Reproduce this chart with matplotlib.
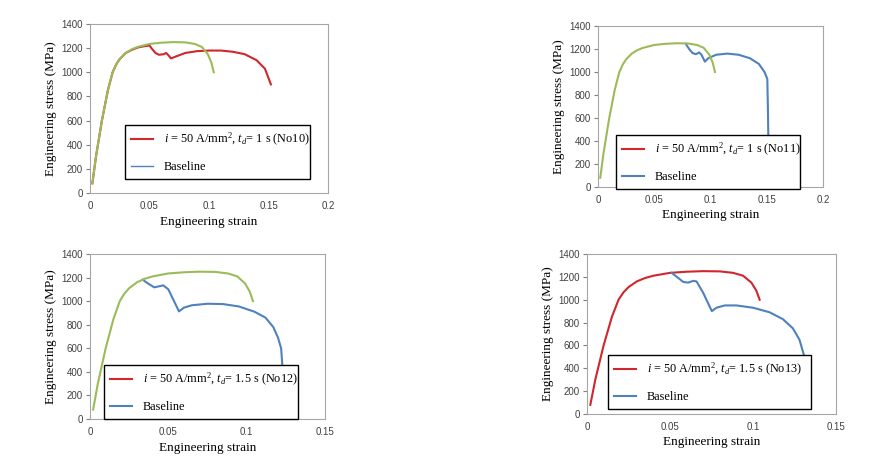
import matplotlib
matplotlib.use("Agg")
import matplotlib.pyplot as plt
from matplotlib.lines import Line2D

plt.rcParams['font.family'] = 'Liberation Serif'
plt.rcParams['mathtext.fontset'] = 'custom'
plt.rcParams['mathtext.rm'] = 'Liberation Serif'
plt.rcParams['mathtext.it'] = 'Liberation Serif:italic'

red = '#D0262D'
blue = '#4F81BD'
green = '#9BBB59'

# common elastic-plastic part (yellow-green curve)
green_x = [0.002, 0.005, 0.01, 0.015, 0.019, 0.022, 0.025, 0.03, 0.035, 0.04, 0.05, 0.06, 0.07, 0.08, 0.088, 0.094, 0.099, 0.102, 0.104]
green_y = [80, 300, 600, 850, 1000, 1065, 1110, 1160, 1190, 1210, 1235, 1245, 1250, 1248, 1235, 1210, 1150, 1080, 1000]

# panel 1 : No10
red1_x = [0.002, 0.005, 0.01, 0.015, 0.019, 0.022, 0.025, 0.03, 0.035, 0.04, 0.045, 0.05, 0.052, 0.055, 0.058, 0.062, 0.064, 0.066,
          0.068, 0.072, 0.08, 0.09, 0.1, 0.11, 0.12, 0.13, 0.14, 0.147, 0.152]
red1_y = [80, 300, 600, 850, 1000, 1065, 1110, 1160, 1185, 1205, 1215, 1222, 1195, 1160, 1145, 1150, 1160, 1140,
          1115, 1130, 1160, 1175, 1180, 1180, 1170, 1150, 1100, 1030, 900]

# panel 2 : No11 baseline branch
blue2_x = [0.078, 0.081, 0.084, 0.087, 0.09, 0.092, 0.095, 0.098, 0.105, 0.115, 0.125, 0.135, 0.143, 0.148, 0.1505, 0.151, 0.1515]
blue2_y = [1245, 1200, 1165, 1155, 1170, 1150, 1090, 1120, 1150, 1160, 1150, 1120, 1070, 1000, 940, 700, 370]

# panel 3 : No12 baseline branch
blue3_x = [0.0336, 0.037, 0.041, 0.0468, 0.05, 0.054, 0.0568, 0.06, 0.065, 0.075, 0.085, 0.095, 0.105, 0.112, 0.117, 0.12, 0.122, 0.1228, 0.1234]
blue3_y = [1182, 1150, 1117, 1134, 1100, 990, 913, 945, 965, 978, 975, 955, 910, 860, 780, 690, 600, 450, 250]

# panel 4 : No13
blue4_x = [0.051, 0.055, 0.058, 0.061, 0.064, 0.066, 0.07, 0.0752, 0.078, 0.083, 0.09, 0.1, 0.11, 0.118, 0.124, 0.128, 0.131]
blue4_y = [1235, 1190, 1155, 1150, 1165, 1160, 1060, 900, 930, 950, 950, 930, 890, 830, 750, 650, 500]

labels = [r'$\it{i}$ = 50 A/mm$^2$, $\it{t_d}$= 1 s (No10)',
          r'$\it{i}$ = 50 A/mm$^2$, $\it{t_d}$= 1 s (No11)',
          r'$\it{i}$ = 50 A/mm$^2$, $\it{t_d}$= 1.5 s (No12)',
          r'$\it{i}$ = 50 A/mm$^2$, $\it{t_d}$= 1.5 s (No13)']

fig = plt.figure(figsize=(8.95, 4.57), dpi=100)

W, H = 895.0, 457.0
# pixel boxes: left, right, top, bottom
boxes = [(90, 328, 24, 193), (598, 823, 26, 187), (90, 325, 254, 419), (587, 836, 254, 414)]
legboxes = [(125, 310, 125, 176), (616, 800, 135, 183), (104, 298, 365, 416), (608, 811, 355, 407)]
xmax = [0.2, 0.2, 0.15, 0.15]
lw_blue = [1.0, 1.5, 1.5, 1.5]

axes = []
for k in range(4):
    l, r, t, b = boxes[k]
    ax = fig.add_axes([l / W, (H - b) / H, (r - l) / W, (b - t) / H])
    axes.append(ax)

axes[0].plot(red1_x, red1_y, color=red, lw=1.5)
axes[0].plot(green_x, green_y, color=green, lw=1.5)

axes[1].plot(blue2_x, blue2_y, color=blue, lw=1.5)
axes[1].plot(green_x, green_y, color=green, lw=1.5)

axes[2].plot(blue3_x, blue3_y, color=blue, lw=1.5)
axes[2].plot(green_x, green_y, color=green, lw=1.5)

axes[3].plot(green_x, green_y, color=red, lw=1.5)
axes[3].plot(blue4_x, blue4_y, color=blue, lw=1.5)

for k, ax in enumerate(axes):
    ax.set_xlim(0, xmax[k])
    ax.set_ylim(0, 1400)
    if xmax[k] == 0.2:
        ticks = [0, 0.05, 0.1, 0.15, 0.2]
        ticklabels = ['0', '0.05', '0.1', '0.15', '0.2']
    else:
        ticks = [0, 0.05, 0.1, 0.15]
        ticklabels = ['0', '0.05', '0.1', '0.15']
    ax.set_xticks(ticks)
    ax.set_xticklabels(ticklabels)
    ax.set_yticks(range(0, 1401, 200))
    for lab in ax.get_xticklabels() + ax.get_yticklabels():
        lab.set_fontfamily('Liberation Sans')
        lab.set_fontsize(7)
        lab.set_color('#404040')
    ax.tick_params(axis='y', length=3, color='#808080', pad=2)
    ax.tick_params(axis='x', length=0, pad=6)
    for s in ax.spines.values():
        s.set_color('#A6A6A6')
        s.set_linewidth(0.8)
    ax.set_xlabel('Engineering strain', fontsize=9.5, labelpad=3)
    ax.set_ylabel('Engineering stress (MPa)', fontsize=9.5, labelpad=3)

    handles = [Line2D([], [], color=red, lw=1.5), Line2D([], [], color=blue, lw=lw_blue[k])]
    l, r, t, b = legboxes[k]
    leg = ax.legend(handles, [labels[k], 'Baseline'], loc='upper left',
                    bbox_to_anchor=(l / W, (H - b) / H, (r - l) / W, (b - t) / H),
                    bbox_transform=fig.transFigure, mode='expand', fontsize=8.8,
                    frameon=True, fancybox=False, framealpha=1, edgecolor='black',
                    borderaxespad=0, handlelength=1.8, handletextpad=0.9, labelspacing=1.05,
                    borderpad=0.5)
    leg.get_frame().set_linewidth(1.0)

fig.savefig('out.png', dpi=100)
